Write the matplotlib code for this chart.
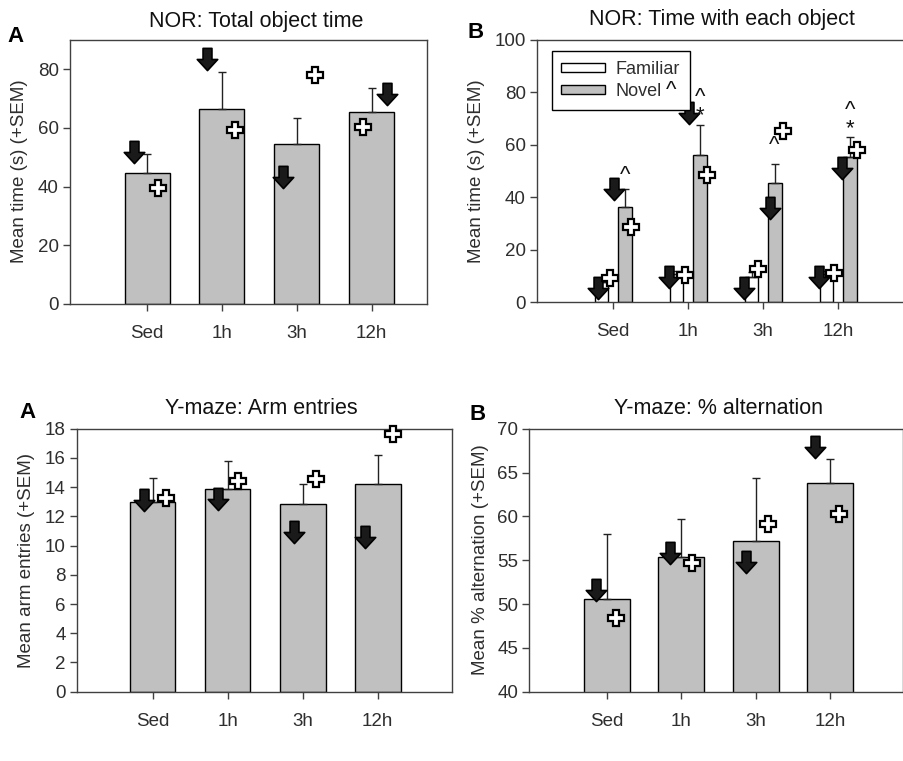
import numpy as np
import matplotlib
matplotlib.use('Agg')
import matplotlib.pyplot as plt
from matplotlib.path import Path
from matplotlib.patches import Patch

plt.rcParams['font.family'] = ['Liberation Sans', 'DejaVu Sans']

groups = ['Sed', '1h', '3h', '12h']

# NOR: total object time
nor_total = [44.8, 66.5, 54.6, 65.6]
nor_total_err = [6.3, 12.5, 8.8, 8.0]
nor_total_arrow_x = [-0.18, 0.80, 1.81, 3.20]
nor_total_arrow_y = [51.7, 83.6, 43.3, 71.7]
nor_total_plus_x = [0.14, 1.17, 2.24, 2.88]
nor_total_plus_y = [39.6, 59.2, 78.2, 60.3]

# NOR: time with each object
nor_familiar = [7.5, 10.5, 9.5, 10.5]
nor_familiar_err = [1.5, 1.5, 2.0, 1.5]
nor_novel = [36.3, 56.0, 45.2, 55.3]
nor_novel_err = [6.6, 11.5, 7.4, 7.4]
nor_arrow_x = [-0.20, 0.02, 0.75, 1.01, 1.75, 2.09, 2.75, 3.06]
nor_arrow_y = [5.2, 42.9, 9.6, 72.1, 5.2, 35.9, 9.6, 50.9]
nor_plus_x = [-0.04, 0.24, 0.96, 1.26, 1.94, 2.27, 2.95, 3.26]
nor_plus_y = [9.0, 28.7, 10.3, 48.4, 12.4, 65.3, 10.9, 57.9]
# significance: ^ vs familiar, * vs sedentary
nor_sig_labels = ['^', '^\n*', '^', '^\n*']
nor_sig_x = [0.165, 1.16, 2.15, 3.16]
nor_sig_y = [49.6, 75.8, 61.1, 71.0]

# Y-maze: arm entries
ym_entries = [13.0, 13.86, 12.87, 14.24]
ym_entries_err = [1.65, 1.94, 1.33, 1.99]
ym_entries_arrow_x = [-0.12, 0.87, 1.88, 2.83]
ym_entries_arrow_y = [13.1, 13.2, 10.9, 10.6]
ym_entries_plus_x = [0.18, 1.14, 2.18, 3.20]
ym_entries_plus_y = [13.25, 14.45, 14.55, 17.65]

# Y-maze: % alternation
ym_alt = [50.54, 55.32, 57.18, 63.83]
ym_alt_err = [7.44, 4.41, 7.19, 2.67]
ym_alt_arrow_x = [-0.14, 0.85, 1.87, 2.80]
ym_alt_arrow_y = [51.6, 55.78, 54.82, 67.87]
ym_alt_plus_x = [0.13, 1.14, 2.16, 3.12]
ym_alt_plus_y = [48.37, 54.64, 59.12, 60.26]

W, H = 904, 761
fig = plt.figure(figsize=(W / 100, H / 100), dpi=100)

GRAY = '#c0c0c0'
TXT = '#2e2e2e'

arrow = Path([(-0.2, 0.5), (0.2, 0.5), (0.2, 0.0), (0.46, 0.0), (0.0, -0.5),
              (-0.46, 0.0), (-0.2, 0.0), (-0.2, 0.5), (-0.2, 0.5)],
             [Path.MOVETO] + [Path.LINETO] * 7 + [Path.CLOSEPOLY])


def px_axes(l, t, r, b):
    return fig.add_axes([l / W, 1 - b / H, (r - l) / W, (b - t) / H])


def style(ax, ylim, yticks, xlim):
    x = np.arange(len(groups))
    ax.set_xlim(*xlim)
    ax.set_ylim(*ylim)
    ax.set_yticks(yticks)
    ax.set_xticks(x)
    ax.set_xticklabels(groups)
    for s in ax.spines.values():
        s.set_color('#404040')
        s.set_linewidth(1.0)
    ax.tick_params(direction='out', length=5, width=1, colors='#404040',
                   labelsize=13.5, labelcolor=TXT, pad=3)
    ax.tick_params(axis='x', pad=10)


def marks(ax, ax_x, ay, px_, py):
    ax.plot(ax_x, ay, ls='none', marker=arrow, ms=16, mfc='#1a1a1a', mec='black',
            mew=1.2, zorder=5, clip_on=False)
    ax.plot(px_, py, ls='none', marker='P', ms=11.5, mfc='white', mec='black',
            mew=1.6, zorder=5, clip_on=False)


def single(ax, vals, errs, width):
    x = np.arange(len(groups))
    ax.bar(x, vals, width=width, color=GRAY, edgecolor='black', linewidth=1.0, zorder=2)
    ax.errorbar(x, vals, yerr=[np.zeros(len(vals)), errs], fmt='none',
                ecolor='#222222', elinewidth=1, capsize=3, capthick=1, zorder=3)


# top-left
ax1 = px_axes(70, 40, 427, 304)
single(ax1, nor_total, nor_total_err, 0.6)
style(ax1, (0, 90), [0, 20, 40, 60, 80], (-1.03, 3.74))
marks(ax1, nor_total_arrow_x, nor_total_arrow_y, nor_total_plus_x, nor_total_plus_y)

# top-right
ax2 = px_axes(537, 39.5, 910, 302)
x = np.arange(len(groups))
ax2.bar(x - 0.15, nor_familiar, width=0.18, color='white', edgecolor='black', linewidth=1.0, zorder=2)
ax2.bar(x + 0.16, nor_novel, width=0.18, color=GRAY, edgecolor='black', linewidth=1.0, zorder=2)
ax2.errorbar(x - 0.15, nor_familiar, yerr=[np.zeros(4), nor_familiar_err], fmt='none',
             ecolor='#222222', elinewidth=1, capsize=3, zorder=3)
ax2.errorbar(x + 0.16, nor_novel, yerr=[np.zeros(4), nor_novel_err], fmt='none',
             ecolor='#222222', elinewidth=1, capsize=3, zorder=3)
style(ax2, (0, 100), [0, 20, 40, 60, 80, 100], (-1.01, 3.96))
marks(ax2, nor_arrow_x, nor_arrow_y, nor_plus_x, nor_plus_y)
for lab, sx, sy in zip(nor_sig_labels, nor_sig_x, nor_sig_y):
    ax2.text(sx, sy - 1.4, lab, ha='center', va='center', fontsize=16, linespacing=0.8,
             color='#111111', zorder=6)
leg = ax2.legend(handles=[Patch(facecolor='white', edgecolor='black', label='Familiar'),
                          Patch(facecolor=GRAY, edgecolor='black', label='Novel')],
                 loc='upper left', bbox_to_anchor=(0.039, 0.957), borderaxespad=0,
                 fontsize=13, handlelength=2.4, handleheight=0.35, handletextpad=0.6,
                 labelspacing=0.3, borderpad=0.55, fancybox=False, framealpha=1,
                 edgecolor='black')
leg.get_frame().set_linewidth(1.0)
for t in leg.get_texts():
    t.set_color(TXT)
ax2.text(0.78, 80.5, '^', ha='center', va='center', fontsize=16, color='#111111', zorder=6)

# bottom-left
ax3 = px_axes(76.7, 428.7, 452, 691.7)
single(ax3, ym_entries, ym_entries_err, 0.61)
style(ax3, (0, 18), list(range(0, 19, 2)), (-1.01, 3.99))
marks(ax3, ym_entries_arrow_x, ym_entries_arrow_y, ym_entries_plus_x, ym_entries_plus_y)

# bottom-right
ax4 = px_axes(529.3, 428.7, 903.3, 691.7)
single(ax4, ym_alt, ym_alt_err, 0.62)
style(ax4, (40, 70), [40, 45, 50, 55, 60, 65, 70], (-1.04, 3.98))
marks(ax4, ym_alt_arrow_x, ym_alt_arrow_y, ym_alt_plus_x, ym_alt_plus_y)


def ftext(x, y, s, **kw):
    fig.text(x / W, 1 - y / H, s, ha='center', va='center', **kw)


ftext(256, 21, 'NOR: Total object time', fontsize=15.5, color='#111111')
ftext(722, 20, 'NOR: Time with each object', fontsize=15.5, color='#111111')
ftext(261, 408, 'Y-maze: Arm entries', fontsize=15.5, color='#111111')
ftext(719, 408, 'Y-maze: % alternation', fontsize=15.5, color='#111111')

ftext(16, 37, 'A', fontsize=16, fontweight='bold')
ftext(476, 32, 'B', fontsize=16, fontweight='bold')
ftext(28, 412, 'A', fontsize=16, fontweight='bold')
ftext(478, 415, 'B', fontsize=16, fontweight='bold')

ftext(20, 171, 'Mean time (s) (+SEM)', fontsize=13.5, rotation=90, color=TXT)
ftext(477, 171, 'Mean time (s) (+SEM)', fontsize=13.5, rotation=90, color=TXT)
ftext(27, 561, 'Mean arm entries (+SEM)', fontsize=13.5, rotation=90, color=TXT)
ftext(481, 560, 'Mean % alternation (+SEM)', fontsize=13.5, rotation=90, color=TXT)

fig.savefig('out.png', dpi=100)
